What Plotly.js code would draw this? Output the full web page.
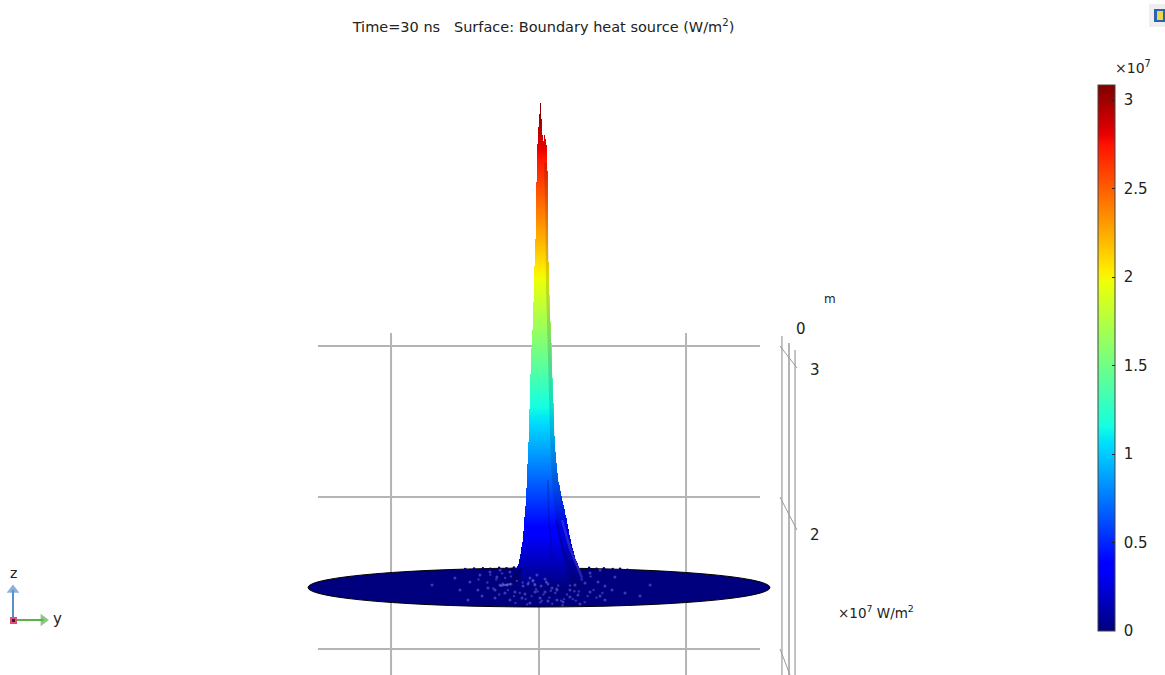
<!DOCTYPE html>
<html>
<head>
<meta charset="utf-8">
<script src="https://cdn.plot.ly/plotly-3.0.1.min.js"></script>
<style>html,body{margin:0;padding:0;background:#fff}#chart{width:1165px;height:675px}
.heatmaplayer image{filter:blur(0.6px)}</style>
</head>
<body>
<div id="chart"></div>
<script>
// Peak profile: height (×10^7 W/m²) with left and right silhouette (m)
var peakHeight = [3.20,3.10,3.00,2.90,2.80,2.70,2.60,2.50,2.40,2.30,2.20,2.10,2.00,1.90,1.80,1.70,1.60,1.50,1.40,1.30,1.20,1.10,1.00,0.90,0.80,0.70,0.60,0.50,0.40,0.30,0.20,0.15,0.10,0.05,0.00];
var peakLeft = [0.007,0.001,-0.005,-0.012,-0.015,-0.017,-0.019,-0.021,-0.023,-0.025,-0.027,-0.031,-0.034,-0.037,-0.041,-0.045,-0.049,-0.054,-0.058,-0.061,-0.064,-0.068,-0.071,-0.075,-0.078,-0.083,-0.088,-0.095,-0.102,-0.112,-0.129,-0.142,-0.170,-0.197,-0.231];
var peakRight = [0.011,0.017,0.022,0.026,0.056,0.059,0.061,0.062,0.062,0.063,0.064,0.066,0.068,0.071,0.075,0.080,0.086,0.089,0.092,0.095,0.098,0.102,0.105,0.112,0.119,0.132,0.153,0.176,0.197,0.217,0.244,0.264,0.285,0.305,0.319];
// Secondary spike
var spikeHeight = [2.99,2.95,2.90,2.80];
var spikeLeft = [0.037,0.030,0.030,0.030];
var spikeRight = [0.041,0.047,0.052,0.056];
var colorOfHeight = 0.97;
// Shaded right flank
var shadeHeight = [2.80,2.40,2.00,1.60,1.20,0.80,0.60,0.40,0.20,0.00];
var shadeX = [0.034,0.044,0.047,0.058,0.068,0.081,0.095,0.120,0.163,0.210];
// Ribs near the foot
var darkRibX = [0.115,0.163,0.244], darkRibY = [0.442,0.244,0.033];
var lightRibX = [0.156,0.210,0.292], lightRibY = [0.442,0.257,0.059];
var centerRibX = [0.061,0.068,0.088], centerRibY = [0.706,0.442,0.178];
var footStreakX = [-0.264,-0.190], footStreakY = [0.007,0.020];
var footShadowX = [-0.21,-0.156,-0.115,-0.129], footShadowY = [0.013,0.112,0.125,0.033];
// Mesh noise on the disk
var speckleX = [-.244,-.217,-.190,-.264,-.041,-.075,-.027,-.108,-.061,-.014,.041,.014,.061,.088,.122,.041,-.027,-.095,-.163,-.231,-.298,-.346,-.414,-.386,-.298,-.197,-.115,.007,.061,.122,.163,.210,.264,.346,.414,.495,.583,.685,.210,.244,.312,.400,.447,.515,.346,.414,-.400,-.332,-.264,-.468,-.536,-.570,-.481,.278,-.061,-.197,-.285,.447,.753,-.725];
var speckleY = [.020,.013,.020,.013,.040,.020,.013,.007,.059,.079,.053,.007,.020,-.007,-.020,-.033,-.033,-.046,-.033,-.040,-.020,-.007,-.020,-.059,-.073,-.086,-.073,-.073,-.092,-.086,-.099,-.066,-.053,-.033,-.059,-.020,-.040,-.059,-.020,.013,.026,.033,.007,.066,.092,.112,.079,.099,.112,.033,-.020,.059,-.086,-.112,-.106,.099,.066,-.086,.013,.013];
var fineX = [-.31,-.27,-.21,-.17,-.13,-.09,-.05,-.01,.03,.07,.11,.15,.19,.23,.27,.33,.37,.43,-.35,-.29,-.23,-.15,-.07,.01,.09,.17,.25,.31,.39,-.41,-.33,-.25,-.19,-.11,-.03,.05,.13,.21,.29,.35,-.02,.08,.02,-.08,.16,-.16,.05,-.04,.12,.24];
var fineY = [-.01,-.05,-.02,-.06,-.04,-.08,-.06,-.03,-.05,-.07,-.04,-.09,-.05,-.08,-.03,-.06,-.02,-.04,.03,.05,.06,.04,.03,-.10,-.11,-.08,-.09,-.10,-.07,.05,.08,.09,.07,.03,.02,.03,.01,.01,.05,.07,-.015,-.025,-.09,-.115,-.12,-.105,.035,.045,-.012,-.028];
var bumpX = [-.50,-.44,-.38,-.33,-.27,-.22,-.17,-.12,.34,.39,.44,.50,.55,.60];
var bumpY = [.118,.122,.124,.120,.126,.124,.128,.124,.126,.120,.124,.118,.120,.114];
// Disk extent
var diskRadius = 1.566, diskBottom = -0.132, diskTop = 0.125;
// Axis frame (m)
var gridX = [-1.003,0,0.997];
var gridY = [1.591,0.594,-0.409];
var colorTicks = [0,0.5,1,1.5,2,2.5,3];
var colorTickText = ['\u00a00','\u00a00.5','\u00a01','\u00a01.5','\u00a02','\u00a02.5','\u00a03'];
// Triad
var triadZX = [-3.566,-3.566], triadZY = [-0.218,-0.020];
var triadYX = [-3.566,-3.360], triadYY = [-0.218,-0.218];

var jet = [[0,'#00007f'],[.11,'#0000ff'],[.125,'#0000ff'],[.34,'#00dbff'],[.35,'#00e5f7'],[.375,'#14ffe2'],[.64,'#eeff08'],[.66,'#ffec00'],[.89,'#ff1300'],[.91,'#e80000'],[1,'#7f0000']];
var FONT = 'DejaVu Sans, sans-serif', INK = '#222222', GRID = '#b4b4b4';
var W = 1165, H = 675;
var xRange = [-3.654,4.244], yRange = [-0.581,3.875];

// Rasterise the silhouette polygon defined by the read vertices
var columns = [];
for (var c = -100; c <= 132; c++) columns.push(c * 0.0025);
var rows = [];
for (var r = 485; r >= 0; r--) rows.push(r / 151.5);
function edge(h, hs, vs) {
  for (var i = 0; i < hs.length - 1; i++) {
    if (h <= hs[i] && h >= hs[i+1]) return vs[i] + (vs[i+1]-vs[i]) * (hs[i]-h) / (hs[i]-hs[i+1]);
  }
  return null;
}
var zGrid = rows.map(function (h) {
  var l = edge(h,peakHeight,peakLeft), rr = edge(h,peakHeight,peakRight);
  var sl = edge(h,spikeHeight,spikeLeft), sr = edge(h,spikeHeight,spikeRight);
  return columns.map(function (x) {
    var inside = (l !== null && x >= l && x <= rr) || (sl !== null && x >= sl && x <= sr);
    return inside ? h * colorOfHeight : null;
  });
});

var peak = {type:'heatmap', x:columns, y:rows, z:zGrid, zmin:0, zmax:3.085, zsmooth:false, colorscale:jet, hoverinfo:'skip', showscale:true,
  colorbar:{x:1098/W, xanchor:'left', xpad:0, y:(H-631)/H, yanchor:'bottom', ypad:0,
    thickness:17, thicknessmode:'pixels', len:546/H, lenmode:'fraction', outlinecolor:'#444', outlinewidth:1,
    tickmode:'array', tickvals:colorTicks, ticktext:colorTickText, ticks:'inside', ticklen:3, tickcolor:'#222', tickwidth:1,
    tickfont:{family:FONT,size:15,color:INK}, borderwidth:0, bgcolor:'rgba(0,0,0,0)'}};
// Left-side colour bar ticks
var tickCarrier = {type:'heatmap', x:[0], y:[0], z:[[null]], zmin:0, zmax:3.085, showscale:true, hoverinfo:'skip',
  colorscale:[[0,'rgba(0,0,0,0)'],[1,'rgba(0,0,0,0)']],
  colorbar:{x:1097/W, xanchor:'left', xpad:0, y:(H-631)/H, yanchor:'bottom', ypad:0, thickness:1, thicknessmode:'pixels', len:546/H, lenmode:'fraction',
    outlinewidth:0, tickmode:'array', tickvals:colorTicks, ticks:'outside', ticklen:4, tickcolor:'#222', tickwidth:1, showticklabels:false, bgcolor:'rgba(0,0,0,0)', borderwidth:0}};

var shadePolyX = shadeX.slice(), shadePolyY = shadeHeight.slice();
for (var i = peakHeight.length - 1; i >= 4; i--) { shadePolyX.push(peakRight[i]); shadePolyY.push(peakHeight[i]); }

var traces = [
  peak, tickCarrier,
  {type:'scatter', mode:'lines', x:shadePolyX, y:shadePolyY, fill:'toself', fillcolor:'rgba(0,0,50,0.14)', line:{width:0}, hoverinfo:'skip'},
  {type:'scatter', mode:'lines', x:footShadowX, y:footShadowY, fill:'toself', fillcolor:'rgba(0,0,45,0.4)', line:{width:0}, hoverinfo:'skip'},
  {type:'scatter', mode:'lines', x:centerRibX, y:centerRibY, line:{color:'rgba(0,0,90,0.22)',width:2}, hoverinfo:'skip'},
  {type:'scatter', mode:'lines', x:darkRibX, y:darkRibY, line:{color:'rgba(0,0,70,0.25)',width:2.5}, hoverinfo:'skip'},
  {type:'scatter', mode:'lines', x:lightRibX, y:lightRibY, line:{color:'rgba(120,120,230,0.3)',width:2.5}, hoverinfo:'skip'},
  {type:'scatter', mode:'lines', x:footStreakX, y:footStreakY, line:{color:'rgba(140,140,230,0.5)',width:2}, hoverinfo:'skip'},
  {type:'scatter', mode:'markers', x:speckleX, y:speckleY, marker:{size:3,color:'rgba(125,125,225,0.48)',line:{width:0}}, hoverinfo:'skip'},
  {type:'scatter', mode:'markers', x:fineX, y:fineY, marker:{size:2.4,color:'rgba(125,125,225,0.42)',line:{width:0}}, hoverinfo:'skip'},
  {type:'scatter', mode:'markers', x:bumpX, y:bumpY, marker:{size:2.6,color:'#00007f',line:{width:0}}, hoverinfo:'skip'},
  {type:'scatter', mode:'lines+markers', x:triadZX, y:triadZY, line:{color:'#5b8fc7',width:2}, marker:{color:'#5b8fc7',size:[0,11],symbol:'triangle-up',line:{width:0}}, hoverinfo:'skip'},
  {type:'scatter', mode:'lines+markers', x:triadYX, y:triadYY, line:{color:'#5cb04d',width:2}, marker:{color:'#5cb04d',size:[0,11],symbol:'triangle-right',line:{width:0}}, hoverinfo:'skip'}
];

var shapes = [];
function seg(x0,y0,x1,y1,w,col) { shapes.push({type:'line',xref:'x',yref:'y',x0:x0,y0:y0,x1:x1,y1:y1,layer:'below',line:{color:col||GRID,width:w}}); }
gridX.forEach(function (x) { seg(x,1.677,x,yRange[0],2); });
gridY.forEach(function (y) { seg(-1.498,y,1.498,y,2); });
seg(1.647,1.657,1.647,yRange[0],1.6);
seg(1.695,1.611,1.695,yRange[0],2);
seg(1.736,1.564,1.736,yRange[0],1.6);
seg(1.634,1.591,1.749,1.446,1,'#9c9c9c');
seg(1.634,0.594,1.749,0.376,1,'#9c9c9c');
seg(1.634,-0.409,1.702,yRange[0],1,'#9c9c9c');
shapes.push({type:'circle',xref:'x',yref:'y',x0:-diskRadius,x1:diskRadius,y0:diskBottom,y1:diskTop,layer:'below',fillcolor:'#00007f',line:{color:'#000000',width:1}});
function box(l,t,r,b,col) { shapes.push({type:'rect',xref:'paper',yref:'paper',x0:l/W,x1:r/W,y0:1-t/H,y1:1-b/H,fillcolor:col,line:{width:0},layer:'above'}); }
box(1149,4,1165,27,'#eeeeee');
box(1154,9,1165,22,'#2a62b8');
box(1157,11,1163,20,'#e8d84a');
box(10,617,17,624,'#d8507c');
box(12,619,15,622,'#5a1020');

function label(px,py,text,size,anchor) {
  return {xref:'paper',yref:'paper',x:px/W,y:1-py/H,text:text,showarrow:false,xanchor:anchor||'center',yanchor:'middle',font:{family:FONT,size:size,color:INK}};
}
var annotations = [
  label(830,299,'m',12), label(801,329,'0',15), label(815,370,'3',15), label(815,535,'2',15),
  label(836,612,'×10<sup>7</sup> W/m<sup>2</sup>',13.5,'left'),
  label(1113,67,'×10<sup>7</sup>',14,'left'),
  label(13,573,'z',14), label(57,619,'y',15)
];

var layout = {
  width:W, height:H, margin:{l:0,r:0,t:0,b:0,pad:0,autoexpand:false}, paper_bgcolor:'#fff', plot_bgcolor:'#fff', showlegend:false,
  title:{text:'Time=30 ns   Surface: Boundary heat source (W/m<sup>2</sup>)', x:543.5/W, y:1-27/H, xref:'paper', yref:'paper', xanchor:'center', yanchor:'middle', font:{family:FONT,size:14.5,color:INK}},
  xaxis:{range:xRange, visible:false, fixedrange:true},
  yaxis:{range:yRange, visible:false, fixedrange:true},
  shapes:shapes, annotations:annotations
};
Plotly.newPlot('chart', traces, layout, {displayModeBar:false, staticPlot:true});
</script>
</body>
</html>
